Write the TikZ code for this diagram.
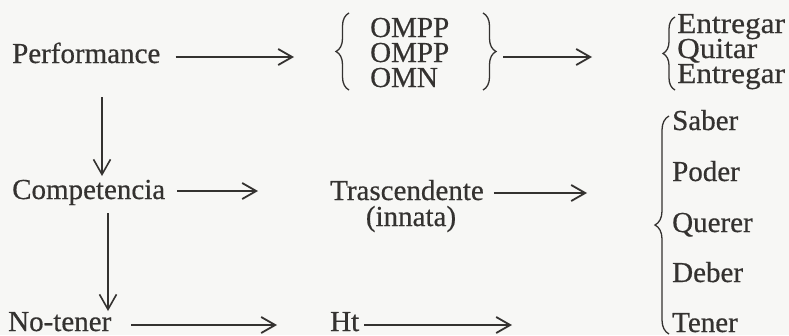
\documentclass[tikz,border=0pt]{standalone}
\usepackage{fontspec}
\setmainfont{Liberation Serif}[FakeBold=0.5]
\newfontfamily\widefont{Liberation Serif}[FakeStretch=1.08,FakeBold=0.5]
\usetikzlibrary{arrows.meta,decorations.pathreplacing,calc}

\definecolor{paper}{RGB}{247,247,245}
\definecolor{ink}{RGB}{52,50,48}

\tikzset{
  lbl/.style={anchor=base west,inner sep=0pt,text=ink,font=\fontsize{29}{29}\selectfont},
  verb/.style={anchor=base west,inner sep=0pt,text=ink,font=\widefont\fontsize{29}{29}\selectfont},
  tight/.style={text height=17pt,text depth=3pt},
  flat/.style={text depth=0pt},
  arr/.style={draw=ink,line width=1.1pt,-{Straight Barb[length=14pt,width=16pt,line width=1.8pt]}},
  varr/.style={draw=ink,line width=1.1pt,-{Straight Barb[length=15pt,width=17pt,line width=1.6pt]}},
  curly/.style={draw=ink,line width=1.3pt,decorate,decoration={brace,amplitude=#1}},
}

\begin{document}
\begin{tikzpicture}[x=1pt,y=-1pt]
  \fill[paper] (0,0) rectangle (789,335);
  \useasboundingbox (0,0) rectangle (789,335);

  % left column
  \node[lbl] (perf) at (12,63) {Performance};
  \node[lbl] (comp) at (12,199) {Competencia};
  \node[lbl,flat] (notener) at (8,331) {No-tener};

  % middle column
  \node[lbl,tight] (o1) at (370,37) {OMPP};
  \node[lbl,tight] (o2) at (370,62) {OMPP};
  \node[lbl,tight] (o3) at (370,87) {OMN};
  \node[lbl,text depth=2pt] (trasc) at (330,200) {Trascendente};
  \node[lbl,anchor=base,text height=17pt] (innata) at (411,226) {(innata)};
  \node[lbl,flat] (ht) at (330,331) {Ht};

  % right column, upper group
  \node[verb,tight] (e1) at (677,33) {Entregar};
  \node[verb,tight] (e2) at (677,58) {Quitar};
  \node[verb,tight] (e3) at (677,83) {Entregar};

  % right column, modal verbs
  \node[lbl] (saber) at (672,130) {Saber};
  \node[lbl] (poder) at (672,181) {Poder};
  \node[lbl] (querer) at (672,232) {Querer};
  \node[lbl] (deber) at (672,282) {Deber};
  \node[lbl,flat] (tener) at (672,332) {Tener};

  % braces
  \coordinate (bLtop) at ($(o1.base west)+(-21,-24)$);
  \coordinate (bLbot) at ($(o3.base west)+(-21,3)$);
  \coordinate (bRtop) at ($(o1.base west)+(113,-24)$);
  \coordinate (bRbot) at ($(o3.base west)+(113,3)$);
  \draw[curly=13pt] (bLbot) -- (bLtop);
  \draw[curly=13pt] (bRtop) -- (bRbot);
  \coordinate (bEtop) at ($(e1.base west)+(-2,-16)$);
  \coordinate (bEbot) at ($(e3.base west)+(-2,7)$);
  \draw[curly=12pt] (bEbot) -- (bEtop);
  \coordinate (bStop) at ($(saber.base west)+(-3,-14)$);
  \coordinate (bSbot) at ($(tener.base west)+(-3,2)$);
  \draw[curly=14pt] (bSbot) -- (bStop);

  % horizontal connectors
  \coordinate (a1s) at ($(perf.base east)+(15,-6)$);
  \coordinate (a1e) at ($(bLtop |- a1s)+(-55,0)$);
  \draw[arr] (a1s) -- (a1e);
  \coordinate (a2s) at ($(bRtop |- a1s)+(20,0)$);
  \coordinate (a2e) at ($(bEtop |- a1s)+(-83,0)$);
  \draw[arr] (a2s) -- (a2e);
  \coordinate (a3s) at ($(comp.base east)+(12,-8)$);
  \coordinate (a3e) at ($(trasc.base west)+(-72,-9)$);
  \draw[arr] (a3s) -- (a3e);
  \coordinate (a4s) at ($(trasc.base east)+(10,-7)$);
  \coordinate (a4e) at ($(querer.base west)+(-85,-39)$);
  \draw[arr] (a4s) -- (a4s -| a4e);
  \coordinate (a5s) at ($(notener.base east)+(20,-6)$);
  \coordinate (a5e) at ($(ht.base west)+(-53,-6)$);
  \draw[arr] (a5s) -- (a5e);
  \coordinate (a6s) at ($(ht.base east)+(5,-6)$);
  \coordinate (a6e) at ($(ht.base west)+(182,-6)$);
  \draw[arr] (a6s) -- (a6e);

  % vertical connectors
  \draw[varr] ($(perf.base west)+(90,34)$) -- ($(comp.base west)+(90,-23)$);
  \draw[varr] ($(comp.base west)+(96,14)$) -- ($(notener.base west)+(100,-20)$);
\end{tikzpicture}
\end{document}
